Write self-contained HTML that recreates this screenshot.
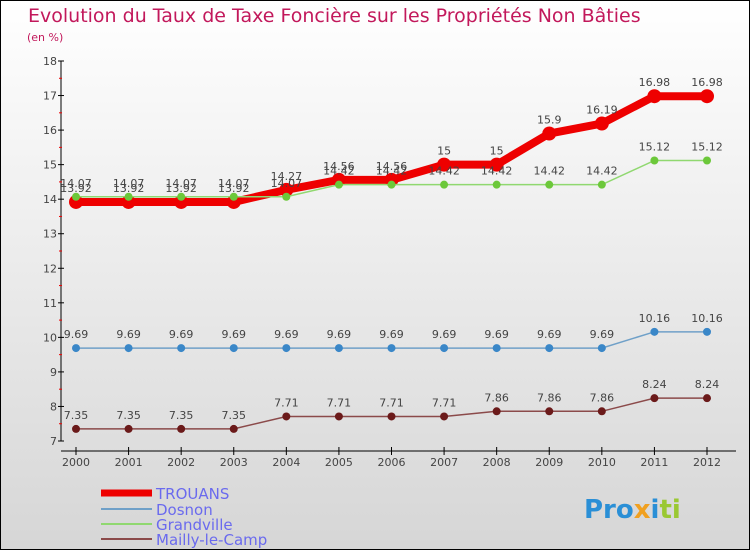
<!DOCTYPE html>
<html><head><meta charset="utf-8"><style>
body{margin:0;}
#c{width:750px;height:550px;position:relative;background:linear-gradient(#ffffff,#d6d6d6);font-family:"DejaVu Sans","Liberation Sans",sans-serif;overflow:hidden;box-sizing:border-box;border:1px solid #000;}
</style></head><body>
<div id="c">
<svg id="s" width="750" height="550" xmlns="http://www.w3.org/2000/svg" style="position:absolute;left:0;top:0">
<text x="27" y="21" font-size="19" fill="#c2185b" font-family="DejaVu Sans, sans-serif">Evolution du Taux de Taxe Foncière sur les Propriétés Non Bâties</text>
<text x="26" y="40" font-size="11" fill="#c2185b">(en %)</text>
<g id="axes"></g><g id="series"></g><g id="legend"></g>
<text x="583" y="517" font-size="26" font-weight="bold" fill="#2a8fd6">Pro<tspan fill="#f0a020">x</tspan><tspan fill="#2a8fd6">i</tspan><tspan fill="#9ac832">ti</tspan></text>
</svg>
</div>
<script>
const years=["2000","2001","2002","2003","2004","2005","2006","2007","2008","2009","2010","2011","2012"];
const yTicks=[7,8,9,10,11,12,13,14,15,16,17,18];
const trouans=[13.92,13.92,13.92,13.92,14.27,14.56,14.56,15,15,15.9,16.19,16.98,16.98];
const dosnon=[9.69,9.69,9.69,9.69,9.69,9.69,9.69,9.69,9.69,9.69,9.69,10.16,10.16];
const grandville=[14.07,14.07,14.07,14.07,14.07,14.42,14.42,14.42,14.42,14.42,14.42,15.12,15.12];
const mailly=[7.35,7.35,7.35,7.35,7.71,7.71,7.71,7.71,7.86,7.86,7.86,8.24,8.24];
const names=["TROUANS","Dosnon","Grandville","Mailly-le-Camp"];
const NS="http://www.w3.org/2000/svg";
const X=i=>75+i*(706-75)/(years.length-1);
const Y=v=>440-(v-7)*(380/11);
function mk(t,a,p){const e=document.createElementNS(NS,t);for(const k in a)e.setAttribute(k,a[k]);p.appendChild(e);return e;}
const ax=document.getElementById('axes');
const yl=mk('line',{x1:60,y1:Y(18),x2:60,y2:440,stroke:'#000'},ax);


const xl=mk('line',{x1:60,y1:450,x2:735,y2:450,stroke:'#000'},ax);


yTicks.forEach(v=>{
 mk('line',{x1:57,x2:63,y1:Y(v),y2:Y(v),stroke:'#000'},ax);
 if(v<18)mk('line',{x1:58,x2:61,y1:Y(v+0.5),y2:Y(v+0.5),stroke:'#e00'},ax);
 const t=mk('text',{x:56,y:Y(v)+4,'text-anchor':'end','font-size':11,fill:'#444'},ax);t.textContent=v;
 
 
});
years.forEach((y,i)=>{
 mk('line',{x1:X(i),x2:X(i),y1:446,y2:454,stroke:'#000'},ax);
 const t=mk('text',{x:X(i),y:465,'text-anchor':'middle','font-size':11,fill:'#444'},ax);t.textContent=y;
 
 
});
const sg=document.getElementById('series');
function draw(data,color,dot,w,r,name){
 const g=mk('g',{},sg);
 
 
 mk('polyline',{points:data.map((v,i)=>X(i)+','+Y(v)).join(' '),fill:'none',stroke:color,'stroke-width':w},g);
 data.forEach((v,i)=>{
  const c=mk('circle',{cx:X(i),cy:Y(v),r:r,fill:dot},g);
  
  
  const t=mk('text',{x:X(i),y:Y(v)-10,'text-anchor':'middle','font-size':11,fill:'#444'},g);t.textContent=v;
 });
}
draw(mailly,'#8b4a4a','#6b1a1a',1.5,4,'series-mailly');
draw(dosnon,'#6fa0c8','#3a87c8',1.5,4,'series-dosnon');
draw(trouans,'#ee0000','#ee0000',8,7,'series-trouans');
draw(grandville,'#90d870','#6cc83a',1.5,4,'series-grandville');
const lg=document.getElementById('legend');
const lc=['#ee0000','#6fa0c8','#90d870','#8b4a4a'],lw=[7,2,2,2],ly=[492,508,523,538];
names.forEach((n,i)=>{
 const g=mk('g',{},lg);
 
 
 mk('line',{x1:100,x2:151,y1:ly[i],y2:ly[i],stroke:lc[i],'stroke-width':lw[i]},g);
 const t=mk('text',{x:155,y:ly[i]+6,'font-size':15,fill:'#6a6aee'},g);t.textContent=n;
});
</script>
</body></html>
